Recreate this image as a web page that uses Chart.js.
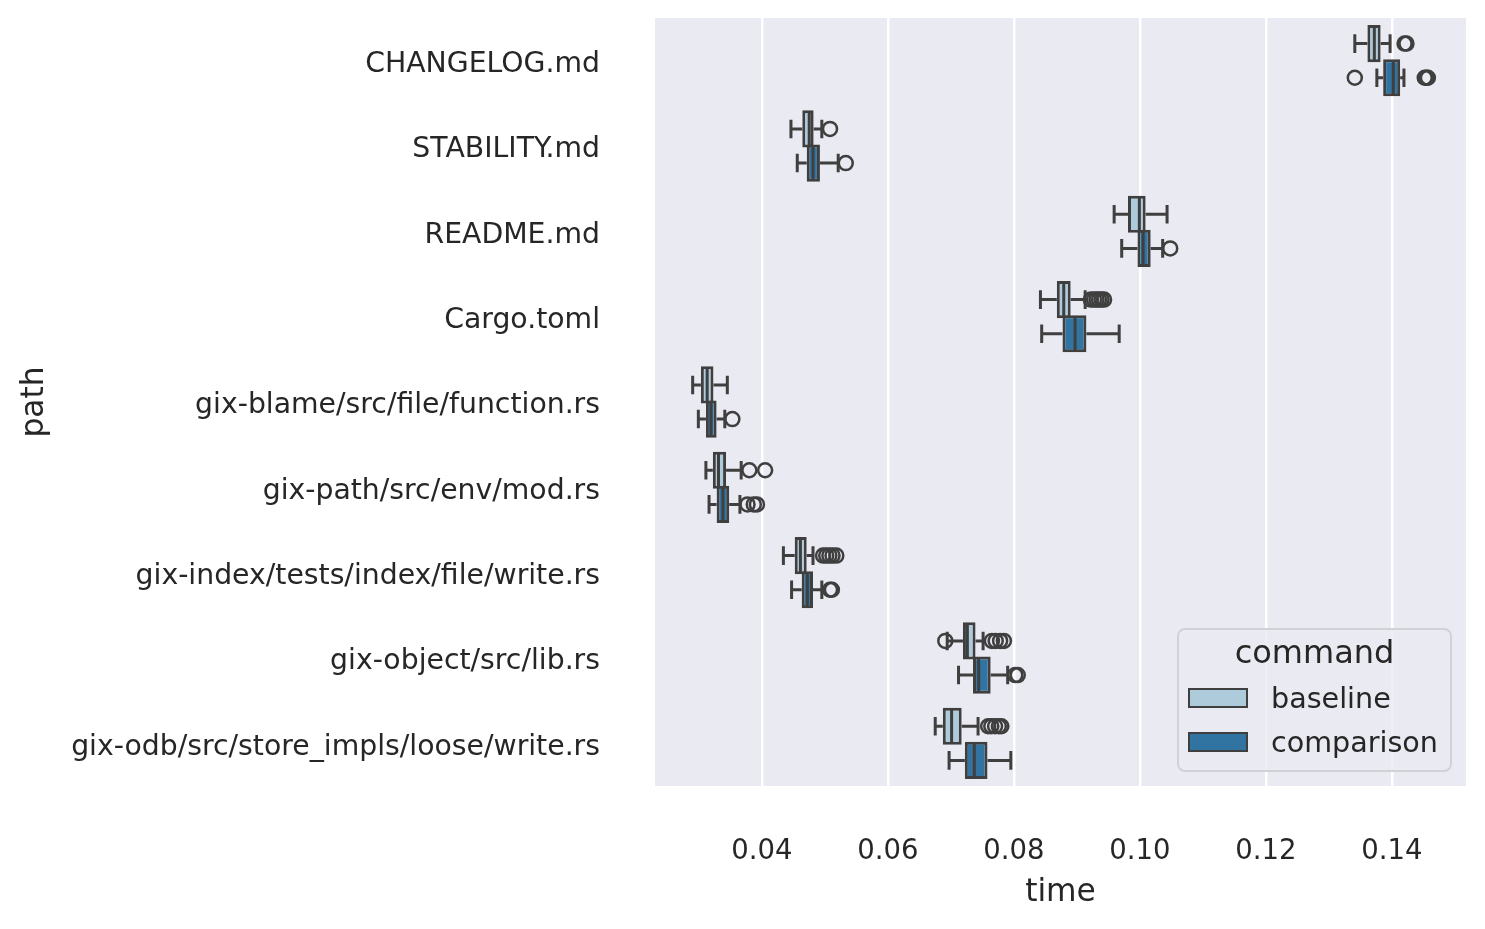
<!DOCTYPE html>
<html>
<head>
<meta charset="utf-8">
<title>time by path</title>
<script src="https://cdn.jsdelivr.net/npm/chart.js@4"></script>
<style>
  body { margin: 0; background: #fff; }
  #wrap { position: relative; width: 1485px; height: 929px; font-family: 'DejaVu Sans', sans-serif; color: #262626; }
  #legendBox { position: absolute; left: 1177px; top: 628px; width: 275px; height: 144px; box-sizing: border-box;
    border: 2.5px solid #d2d2d6; border-radius: 8px; background: rgba(234, 234, 242, 0.8); }
  .lgTitle { position: absolute; left: 1177px; width: 275px; top: 634px; text-align: center; font-size: 32px; line-height: 36px; }
  .lgPatch { position: absolute; left: 1188px; width: 60px; height: 20px; box-sizing: border-box; border: 2.5px solid #3f3f3f; }
  .lgText { position: absolute; left: 1271px; font-size: 28.6px; line-height: 33px; white-space: nowrap; }
</style>
</head>
<body>
<div id="wrap">
  <canvas id="boxChart"></canvas>
  <div id="legendBox"></div>
  <div class="lgTitle">command</div>
  <div class="lgPatch" style="top:688px; background:#aecbdc"></div>
  <div class="lgText" style="top:682px">baseline</div>
  <div class="lgPatch" style="top:732px; background:#3274a1"></div>
  <div class="lgText" style="top:726px">comparison</div>
</div>
<script>
// categories (top to bottom)
const paths = [
    'CHANGELOG.md',
    'STABILITY.md',
    'README.md',
    'Cargo.toml',
    'gix-blame/src/file/function.rs',
    'gix-path/src/env/mod.rs',
    'gix-index/tests/index/file/write.rs',
    'gix-object/src/lib.rs',
    'gix-odb/src/store_impls/loose/write.rs'
];

// baseline: whisker low, q1, median, q3, whisker high, outliers
const baseLow  = [0.1341, 0.0446, 0.0959, 0.0842, 0.0290, 0.0311, 0.0434, 0.0694, 0.0675];
const baseQ1   = [0.1361, 0.0464, 0.0981, 0.0868, 0.0303, 0.0322, 0.0452, 0.0719, 0.0687];
const baseMed  = [0.1372, 0.0475, 0.0999, 0.0879, 0.0313, 0.0331, 0.0461, 0.0726, 0.0701];
const baseQ3   = [0.1382, 0.0482, 0.1009, 0.0890, 0.0323, 0.0343, 0.0471, 0.0739, 0.0717];
const baseHigh = [0.1397, 0.0495, 0.1043, 0.0913, 0.0345, 0.0367, 0.0481, 0.0751, 0.0743];
const baseOut  = [
    [0.1420, 0.1423],
    [0.0508],
    [],
    [0.0922, 0.0927, 0.0931, 0.0935, 0.0939, 0.0943],
    [],
    [0.0380, 0.0405],
    [0.0497, 0.0502, 0.0507, 0.0512, 0.0518],
    [0.0691, 0.0765, 0.0771, 0.0778, 0.0784],
    [0.0759, 0.0764, 0.0770, 0.0776, 0.0780]
];

// comparison
const compLow  = [0.1376, 0.0456, 0.0971, 0.0844, 0.0299, 0.0316, 0.0447, 0.0712, 0.0697];
const compQ1   = [0.1386, 0.0471, 0.0996, 0.0877, 0.0311, 0.0328, 0.0463, 0.0735, 0.0722];
const compMed  = [0.1402, 0.0481, 0.1005, 0.0897, 0.0319, 0.0338, 0.0472, 0.0744, 0.0737];
const compQ3   = [0.1413, 0.0492, 0.1017, 0.0915, 0.0328, 0.0348, 0.0481, 0.0763, 0.0758];
const compHigh = [0.1419, 0.0521, 0.1036, 0.0967, 0.0341, 0.0365, 0.0495, 0.0790, 0.0795];
const compOut  = [
    [0.1341, 0.1452, 0.1455, 0.1457],
    [0.0533],
    [0.1048],
    [],
    [0.0353],
    [0.0377, 0.0387, 0.0392],
    [0.0508, 0.0511],
    [0.0802, 0.0806],
    []
];

const timeTicks = [0.04, 0.06, 0.08, 0.10, 0.12, 0.14];

const lineColor = '#3f3f3f';

Chart.defaults.font.family = "'DejaVu Sans', sans-serif";
Chart.defaults.color = '#262626';

const axesBg = {
    id: 'axesBg',
    beforeDraw(chart) {
        const { ctx, chartArea: a } = chart;
        ctx.save();
        ctx.fillStyle = '#eaeaf2';
        ctx.fillRect(a.left, a.top, a.right - a.left, a.bottom - a.top);
        ctx.restore();
    }
};

// whiskers, caps, medians and outlier circles for each box dataset
const boxLines = {
    id: 'boxLines',
    afterDatasetDraw(chart, args) {
        const ds = chart.data.datasets[args.index];
        if (!ds.stats) return;
        const xs = chart.scales.x;
        const ctx = chart.ctx;
        const s = ds.stats;
        ctx.save();
        ctx.strokeStyle = lineColor;
        ctx.lineWidth = 3;
        args.meta.data.forEach((bar, i) => {
            const { y, height } = bar.getProps(['y', 'height'], true);
            const cap = height / 4;
            const lo = xs.getPixelForValue(s.low[i]);
            const q1 = xs.getPixelForValue(s.q1[i]);
            const md = xs.getPixelForValue(s.med[i]);
            const q3 = xs.getPixelForValue(s.q3[i]);
            const hi = xs.getPixelForValue(s.high[i]);
            ctx.beginPath();
            ctx.moveTo(lo, y); ctx.lineTo(q1, y);
            ctx.moveTo(q3, y); ctx.lineTo(hi, y);
            ctx.moveTo(lo, y - cap); ctx.lineTo(lo, y + cap);
            ctx.moveTo(hi, y - cap); ctx.lineTo(hi, y + cap);
            ctx.moveTo(md, y - height / 2 + 1.5); ctx.lineTo(md, y + height / 2 - 1.5);
            ctx.stroke();
        });
        ctx.lineWidth = 2.5;
        args.meta.data.forEach((bar, i) => {
            const y = bar.getProps(['y'], true).y;
            s.out[i].forEach(v => {
                ctx.beginPath();
                ctx.arc(xs.getPixelForValue(v), y, 7, 0, Math.PI * 2);
                ctx.stroke();
            });
        });
        ctx.restore();
    }
};

const ctx = document.getElementById('boxChart').getContext('2d');
const chart = new Chart(ctx, {
    type: 'bar',
    data: {
        labels: paths,
        datasets: [
            {
                label: 'baseline',
                data: baseQ1.map((v, i) => [v, baseQ3[i]]),
                stats: { low: baseLow, q1: baseQ1, med: baseMed, q3: baseQ3, high: baseHigh, out: baseOut },
                backgroundColor: '#aecbdc',
                borderColor: lineColor,
                borderWidth: 3,
                borderSkipped: false,
                categoryPercentage: 0.8,
                barPercentage: 1.09
            },
            {
                label: 'comparison',
                data: compQ1.map((v, i) => [v, compQ3[i]]),
                stats: { low: compLow, q1: compQ1, med: compMed, q3: compQ3, high: compHigh, out: compOut },
                backgroundColor: '#3274a1',
                borderColor: lineColor,
                borderWidth: 3,
                borderSkipped: false,
                categoryPercentage: 0.8,
                barPercentage: 1.09
            }
        ]
    },
    options: {
        indexAxis: 'y',
        responsive: true,
        maintainAspectRatio: false,
        animation: false,
        events: [],
        layout: { padding: { top: 18, right: 19, left: 0, bottom: 0 } },
        plugins: { legend: { display: false }, tooltip: { enabled: false } },
        scales: {
            x: {
                type: 'linear',
                position: 'bottom',
                offset: false,
                min: 0.02302,
                max: 0.15175,
                afterBuildTicks: s => { s.ticks = timeTicks.map(v => ({ value: v })); },
                afterFit: s => { s.height = 143; s.paddingLeft = 0; s.paddingRight = 0; },
                ticks: {
                    padding: 49,
                    font: { size: 27.5 },
                    color: '#262626',
                    callback: v => v.toFixed(2)
                },
                grid: { color: '#ffffff', lineWidth: 2.5, drawTicks: false, offset: false },
                border: { display: false },
                title: { display: true, text: 'time', font: { size: 31.3 }, color: '#262626', padding: { bottom: 17 } }
            },
            y: {
                type: 'category',
                position: 'left',
                offset: true,
                afterFit: s => { s.width = 655; s.paddingTop = 0; s.paddingBottom = 0; },
                ticks: { padding: 55, labelOffset: 4, font: { size: 28.3 }, color: '#262626' },
                grid: { display: false, drawTicks: false },
                border: { display: false },
                title: { display: true, text: 'path', font: { size: 31.3 }, color: '#262626', padding: { top: 16 } }
            }
        }
    },
    plugins: [axesBg, boxLines]
});
</script>
</body>
</html>
